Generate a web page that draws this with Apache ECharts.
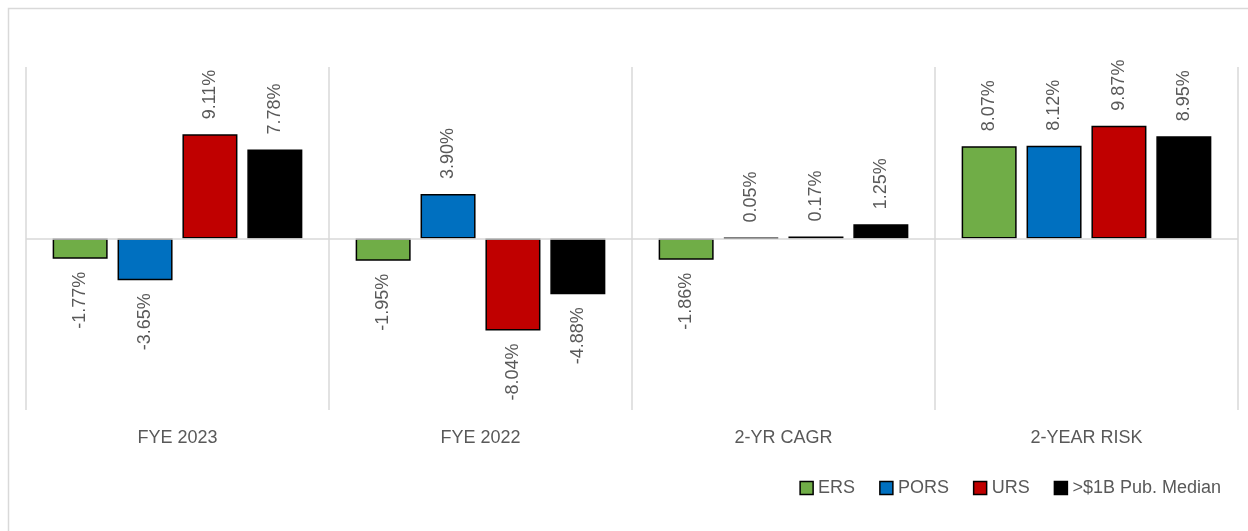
<!DOCTYPE html>
<html><head><meta charset="utf-8">
<script src="https://cdn.jsdelivr.net/npm/echarts@6/dist/echarts.min.js"></script>
<style>html,body{margin:0;padding:0;background:#fff}#c{width:1248px;height:531px}</style>
</head><body><div id="c"></div>
<script>
const categories = ['FYE 2023', 'FYE 2022', '2-YR CAGR', '2-YEAR RISK'];
const seriesNames = ['ERS', 'PORS', 'URS', '>$1B Pub. Median'];
const ERS = [-1.77, -1.95, -1.86, 8.07];
const PORS = [-3.65, 3.90, 0.05, 8.12];
const URS = [9.11, -8.04, 0.17, 9.87];
const MEDIAN = [7.78, -4.88, 1.25, 8.95];
const colors = ['#70AD47', '#0070C0', '#C00000', '#000000'];
const values = [ERS, PORS, URS, MEDIAN];

const font = 'Liberation Sans, Arial, sans-serif';
const labelColor = '#595959';

function mkData(arr) {
  return arr.map(v => ({
    value: v,
    label: v >= 0
      ? { position: 'top', rotate: 90, align: 'left', verticalAlign: 'middle', distance: 15 }
      : { position: 'bottom', rotate: 90, align: 'right', verticalAlign: 'middle', distance: 13 }
  }));
}

const series = values.map((arr, i) => ({
  name: seriesNames[i],
  type: 'bar',
  data: mkData(arr),
  barWidth: 55,
  barGap: '18%',
  itemStyle: { color: colors[i], borderColor: '#000', borderWidth: 1.5 },
  label: {
    show: true,
    color: labelColor,
    fontFamily: font,
    fontSize: 18,
    formatter: p => p.value.toFixed(2) + '%'
  },
  markLine: i === 0 ? {
    silent: true, symbol: 'none', label: { show: false },
    lineStyle: { color: '#d9d9d9', type: 'solid', width: 1.5 },
    data: [{ yAxis: 0 }]
  } : undefined
}));

const chart = echarts.init(document.getElementById('c'), null, { renderer: 'canvas' });
chart.setOption({
  animation: false,
  backgroundColor: '#fff',
  graphic: [{
    type: 'rect', left: 6, top: 6, shape: { width: 1260, height: 540 },
    style: { fill: 'none', stroke: '#d9d9d9', lineWidth: 1.5 }, z: -1
  }],
  grid: { left: 26, right: 10, top: 67, bottom: 121 },
  legend: {
    right: 22, top: 474,
    itemWidth: 13, itemHeight: 13, itemGap: 24,
    textStyle: { color: labelColor, fontFamily: font, fontSize: 18 },
    data: seriesNames.map((n, i) => ({ name: n, icon: 'rect', itemStyle: { color: colors[i], borderColor: '#000', borderWidth: 1.5 } }))
  },
  xAxis: {
    type: 'category', data: categories,
    axisLine: { show: false, onZero: false },
    axisTick: { show: false },
    splitLine: { show: true, lineStyle: { color: '#d9d9d9', width: 1.5 } },
    axisLabel: { color: labelColor, fontFamily: font, fontSize: 18, margin: 19 }
  },
  yAxis: {
    type: 'value', min: -15, max: 15, interval: 5,
    axisLine: { show: false }, axisTick: { show: false }, axisLabel: { show: false },
    splitLine: { show: false }
  },
  series
});
</script></body></html>
